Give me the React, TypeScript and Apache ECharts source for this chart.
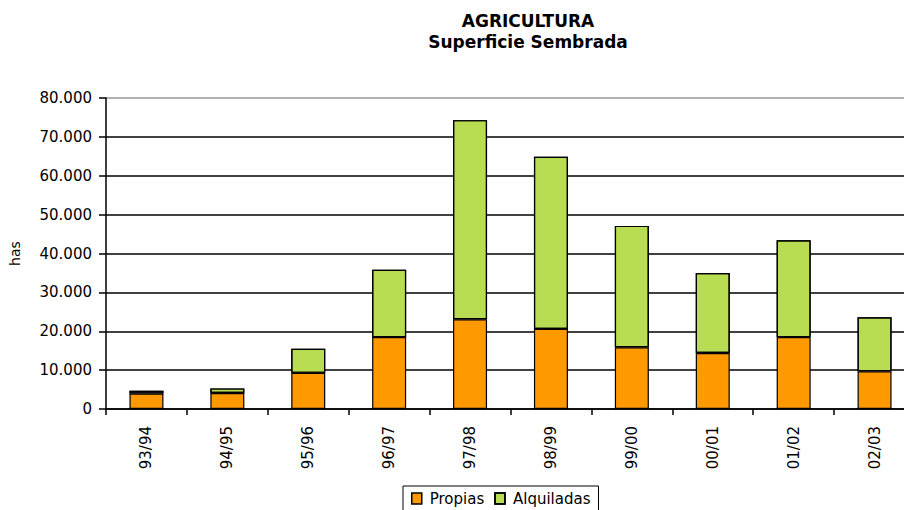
import React, { useEffect, useRef } from "react";
import * as echarts from "echarts";

// Campaign seasons on the category axis
const campaigns = ["93/94", "94/95", "95/96", "96/97", "97/98", "98/99", "99/00", "00/01", "01/02", "02/03"];
// Sown area (hectares) owned vs. rented
const propias = [4000, 4100, 9300, 18500, 23100, 20600, 15900, 14400, 18500, 9700];
const alquiladas = [700, 1200, 6200, 17300, 51200, 44300, 31200, 20600, 24900, 13900];
// Value axis range
const yMax = 80000;
const yStep = 10000;

const FONT = "'DejaVu Sans', Verdana, sans-serif";

const fmtThousands = (v: number) => String(v).replace(/\B(?=(\d{3})+(?!\d))/g, ".");

export default function App() {
  const ref = useRef<HTMLDivElement>(null);

  useEffect(() => {
    if (!ref.current) return;
    const chart = echarts.init(ref.current, undefined, { renderer: "svg" });
    const gridColors = ["#000", "#000", "#000", "#000", "#000", "#000", "#000", "#000", "#999"];
    chart.setOption({
      animation: false,
      backgroundColor: "#fff",
      title: {
        text: "AGRICULTURA\nSuperficie Sembrada",
        left: 523,
        top: 5,
        textAlign: "center",
        textStyle: { fontFamily: FONT, fontWeight: "bold", fontSize: 17, lineHeight: 21, color: "#000" },
      },
      legend: {
        left: 403,
        top: 486,
        padding: [5, 8, 5, 8],
        borderColor: "#000",
        borderWidth: 1,
        itemGap: 10,
        itemWidth: 10,
        itemHeight: 11,
        icon: "rect",
        textStyle: { fontFamily: FONT, fontSize: 15, color: "#000", padding: [0, 0, 0, 3] },
        data: [
          { name: "Propias", itemStyle: { borderColor: "#000", borderWidth: 1.5 } },
          { name: "Alquiladas", itemStyle: { borderColor: "#000", borderWidth: 1.5 } },
        ],
      },
      grid: { left: 104, top: 98, right: 5, bottom: 101, containLabel: false },
      xAxis: {
        type: "category",
        data: campaigns,
        axisLine: { lineStyle: { color: "#000", width: 1.5 } },
        axisTick: { show: true, length: 6, lineStyle: { color: "#000", width: 1.5 } },
        axisLabel: { rotate: 90, margin: 17, fontFamily: FONT, fontSize: 15, color: "#000" },
      },
      yAxis: {
        type: "value",
        min: 0,
        max: yMax,
        interval: yStep,
        name: "has",
        nameLocation: "middle",
        nameGap: 84,
        nameTextStyle: { fontFamily: FONT, fontSize: 14, color: "#000" },
        axisLine: { show: true, lineStyle: { color: "#000", width: 1.5 } },
        axisTick: { show: true, length: 7, lineStyle: { color: "#000", width: 1.5 } },
        axisLabel: { margin: 14, fontFamily: FONT, fontSize: 15, color: "#000", formatter: fmtThousands },
        splitLine: { show: true, lineStyle: { color: gridColors, width: 1.5 } },
      },
      series: [
        {
          name: "Propias",
          type: "bar",
          stack: "total",
          barWidth: 34,
          data: propias,
          itemStyle: { color: "#ff9900", borderColor: "#000", borderWidth: 1.2 },
        },
        {
          name: "Alquiladas",
          type: "bar",
          stack: "total",
          barWidth: 34,
          data: alquiladas,
          itemStyle: {
            color: "#b8dc52",
            borderColor: "#000",
            borderWidth: 1.2,
            decal: {
              symbol: "circle",
              symbolSize: 0.5,
              color: "rgba(150,200,60,0.6)",
              dashArrayX: [[1, 0], [1, 0]],
              dashArrayY: [2, 3],
            },
          },
        },
      ],
    });
    return () => chart.dispose();
  }, []);

  // The canvas runs a little past the right edge of the window, so the last column is cut off there
  return <div ref={ref} style={{ position: "fixed", left: 0, top: 0, width: 920, height: 510 }} />;
}
